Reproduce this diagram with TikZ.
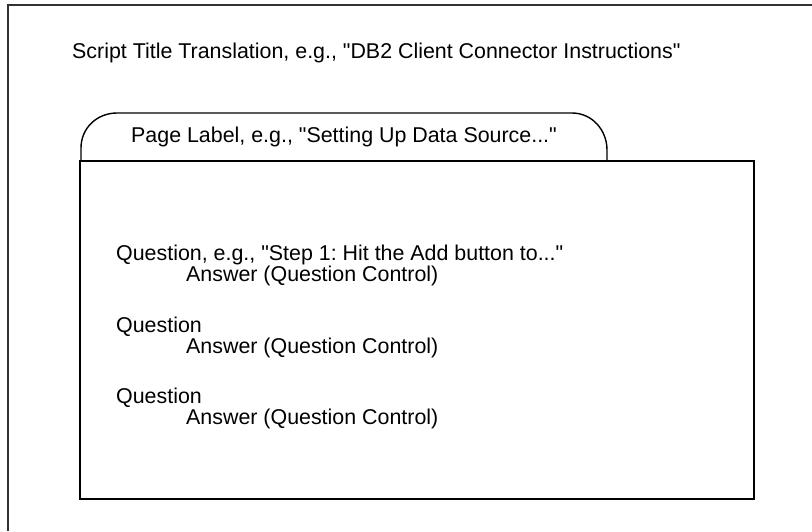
\documentclass[tikz,border=0pt]{standalone}
\usepackage{fontspec}
\setmainfont{Liberation Sans}
\definecolor{FrameGray}{RGB}{50,50,50}
\usepackage{tikz}
\frenchspacing

\tikzset{
  frameline/.style={draw=FrameGray, line width=1.6pt},
  boxline/.style={draw=black, line width=1.4pt},
  plaintext/.style={inner sep=0pt, anchor=base west,
                    font=\fontsize{21.4pt}{24pt}\selectfont}
}

\begin{document}
\begin{tikzpicture}[x=1pt, y=-1pt]
      \useasboundingbox (0,0) rectangle (812,531);

      % outer frame, only top and left edges are in view
      \draw[frameline] (812,5) -| (8,531);

      % script title
      \node[plaintext] (title) at (72,58)
            {Script Title Translation, e.g., \textquotedbl DB2 Client Connector Instructions\textquotedbl};

      % page tab
      \draw[boxline] (81,161) -- (81,148)
            .. controls (81,128) and (97,113) .. (117,113)
            -- (572,113)
            .. controls (592,113) and (607,130) .. (607,150)
            -- (607,161);
      \node[plaintext] (tablabel) at (131,142)
            {Page Label, e.g., \textquotedbl Setting Up Data Source...\textquotedbl};

      % page body
      \draw[boxline] (80,161) rectangle (754,499);

      % questions and answers
      \node[plaintext] (q1) at (116,260)
            {Question, e.g., \textquotedbl Step 1: Hit the Add button to...\textquotedbl};
      \node[plaintext] (a1) at (186,281) {Answer (Question Control)};
      \node[plaintext] (q2) at (116,332) {Question};
      \node[plaintext] (a2) at (186,353) {Answer (Question Control)};
      \node[plaintext] (q3) at (116,403) {Question};
      \node[plaintext] (a3) at (186,424) {Answer (Question Control)};

\end{tikzpicture}
\end{document}
